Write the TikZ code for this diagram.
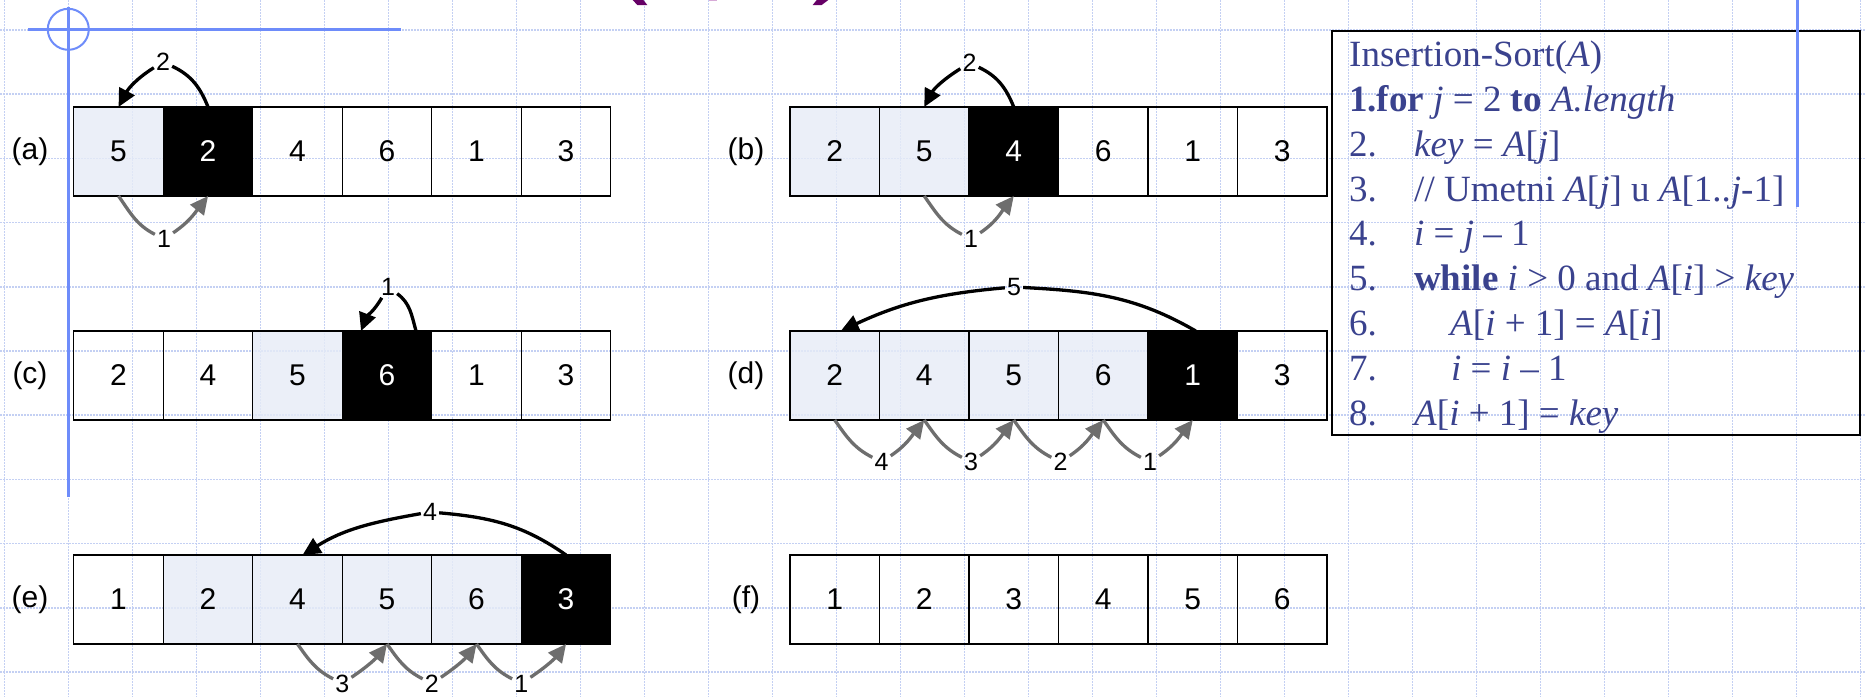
\documentclass[tikz,border=0pt]{standalone}
\usepackage{fontspec}
\setmainfont{Liberation Serif}
\newfontfamily\arialfont{Liberation Sans}
\usetikzlibrary{arrows.meta}

\definecolor{gridblue}{RGB}{196,208,243}
\definecolor{marginblue}{RGB}{110,140,250}
\definecolor{lightcell}{RGB}{230,236,247}
\definecolor{codeblue}{RGB}{58,66,142}
\definecolor{arrowgray}{RGB}{110,110,110}
\definecolor{titlepurple}{RGB}{102,0,102}
\definecolor{titlepink}{RGB}{215,170,215}

\begin{document}
\begin{tikzpicture}[x=1pt,y=1pt,
  gridline/.style={draw=gridblue, line width=1.5pt, dash pattern=on 1.6pt off 1.4pt},
  cellbox/.style={draw=black, line width=1.2pt, minimum width=89.5pt, minimum height=89pt,
    inner sep=0pt, outer sep=0pt, text opacity=1, font=\arialfont\fontsize{30}{36}\selectfont},
  rowlabel/.style={font=\arialfont\fontsize{30}{36}\selectfont, inner sep=0pt},
  numlabel/.style={font=\arialfont\fontsize{25}{25}\selectfont, inner sep=2pt},
  blackarr/.style={draw=black, line width=3.3pt, -{Triangle[length=18pt,width=17pt]}},
  grayarr/.style={draw=arrowgray, line width=3.3pt, -{Triangle[length=18pt,width=17pt]}},
  codetext/.style={text=codeblue, font=\fontsize{37}{44}\selectfont, anchor=base west, inner sep=0pt},
  marginline/.style={draw=marginblue, line width=3pt},
]
\useasboundingbox (0,0) rectangle (1866,-697);
\fill[white] (0,0) rectangle (1866,-697);

% squared paper
\foreach \i in {0,...,29}
  \draw[gridline] ({4.3+64*\i},0) -- ({4.3+64*\i},-697);
\foreach \j in {0,...,10}
  \draw[gridline] (0,{-30-64.2*\j}) -- (1866,{-30-64.2*\j});

% pieces of the heading above the frame
\fill[titlepurple] (632.7,0) -- (643.3,0) -- (647.3,-5) -- (637.3,-5) -- cycle;
\fill[titlepurple] (816.7,0) -- (828.3,0) -- (821.7,-5) -- (812.7,-5) -- cycle;
\fill[titlepink] (709.3,0) rectangle (716.7,-1.2);

% row labels
\node[rowlabel] (la) at (30,-151.5) {(a)};
\node[rowlabel] (lb) at (746,-151.5) {(b)};
\node[rowlabel] (lc) at (30,-375.5) {(c)};
\node[rowlabel] (ld) at (746,-375.5) {(d)};
\node[rowlabel] (le) at (30,-599.5) {(e)};
\node[rowlabel] (lf) at (746,-599.5) {(f)};

% arrays: value / fill / text colour / fill opacity
\foreach \v/\fc/\tc/\op [count=\k] in {5/lightcell/black/0.8,2/black/white/1,4/none/black/1,6/none/black/1,1/none/black/1,3/none/black/1}
  \node[cellbox, fill=\fc, text=\tc, fill opacity=\op] (ra\k) at ({73.8+89.5*(\k-0.5)},-151.5) {\v};
\foreach \v/\fc/\tc/\op [count=\k] in {2/lightcell/black/0.8,5/lightcell/black/0.8,4/black/white/1,6/none/black/1,1/none/black/1,3/none/black/1}
  \node[cellbox, fill=\fc, text=\tc, fill opacity=\op] (rb\k) at ({790+89.5*(\k-0.5)},-151.5) {\v};
\foreach \v/\fc/\tc/\op [count=\k] in {2/none/black/1,4/none/black/1,5/lightcell/black/0.8,6/black/white/1,1/none/black/1,3/none/black/1}
  \node[cellbox, fill=\fc, text=\tc, fill opacity=\op] (rc\k) at ({73.8+89.5*(\k-0.5)},-375.5) {\v};
\foreach \v/\fc/\tc/\op [count=\k] in {2/lightcell/black/0.8,4/lightcell/black/0.8,5/lightcell/black/0.8,6/lightcell/black/0.8,1/black/white/1,3/none/black/1}
  \node[cellbox, fill=\fc, text=\tc, fill opacity=\op] (rd\k) at ({790+89.5*(\k-0.5)},-375.5) {\v};
\foreach \v/\fc/\tc/\op [count=\k] in {1/none/black/1,2/lightcell/black/0.8,4/lightcell/black/0.8,5/lightcell/black/0.8,6/lightcell/black/0.8,3/black/white/1}
  \node[cellbox, fill=\fc, text=\tc, fill opacity=\op] (re\k) at ({73.8+89.5*(\k-0.5)},-599.5) {\v};
\foreach \v [count=\k] in {1,2,3,4,5,6}
  \node[cellbox] (rf\k) at ({790+89.5*(\k-0.5)},-599.5) {\v};

% (a)
\node[numlabel] (ta) at (163,-62) {2};
\draw[blackarr] (ra2.north) to[out=112,in=-25] (ta) to[out=212,in=62] (ra1.north);
\node[numlabel] (ba) at (164,-239) {1};
\draw[grayarr] (ra1.south) to[out=-55,in=153] (ba) to[out=34,in=-128] (ra2.south);

% (b)
\node[numlabel] (tb) at (969.5,-63) {2};
\draw[blackarr] (rb3.north) to[out=112,in=-25] (tb) to[out=212,in=62] (rb2.north);
\node[numlabel] (bb) at (971,-239) {1};
\draw[grayarr] (rb2.south) to[out=-55,in=153] (bb) to[out=34,in=-128] (rb3.south);

% (c)
\node[numlabel] (tc) at (388,-287) {1};
\draw[blackarr] ([xshift=29pt]rc4.north) to[out=106,in=-36] (tc) to[out=240,in=69] ([xshift=-26pt]rc4.north);

% (d)
\node[numlabel] (td) at (1014,-287) {5};
\draw[blackarr] ([xshift=3pt]rd5.north) to[out=150,in=-3] (td) to[out=185,in=25] ([xshift=6pt]rd1.north);
\foreach \k/\n in {1/4,2/3,3/2,4/1}{
  \pgfmathtruncatemacro\kn{\k+1}
  \node[numlabel] (bd\k) at ({790+89.5*\k+2},-462) {\n};
  \draw[grayarr] (rd\k.south) to[out=-55,in=153] (bd\k) to[out=34,in=-128] (rd\kn.south);
}

% (e)
\node[numlabel] (te) at (430,-512) {4};
\draw[blackarr] (re6.north) to[out=145,in=-5] (te) to[out=190,in=32] ([xshift=5pt]re3.north);
\foreach \k/\n in {3/3,4/2,5/1}{
  \pgfmathtruncatemacro\kn{\k+1}
  \node[numlabel] (be\k) at ({73.8+89.5*\k},-683.5) {\n};
  \draw[grayarr] (re\k.south) to[out=-55,in=153] (be\k) to[out=34,in=-128] (re\kn.south);
}

% pseudocode
\node[draw=black, line width=2.5pt, minimum width=528pt, minimum height=404pt, inner sep=0pt] (codebox) at (1596,-233) {};
\node[codetext] (ln0) at (1349,-66.7) {Insertion-Sort(\textit{A})};
\node[codetext] (ln1) at (1349,-111.5) {\textbf{1.for} \textit{j} = 2 \textbf{to} \textit{A.length}};
\node[codetext] (n2) at (1349,-156.3) {2.};
\node[codetext] (t2) at (1414,-156.3) {\textit{key} = \textit{A}[\textit{j}]};
\node[codetext] (n3) at (1349,-201.1) {3.};
\node[codetext] (t3) at (1414,-201.1) {// Umetni \textit{A}[\textit{j}] u \textit{A}[1..\textit{j}-1]};
\node[codetext] (n4) at (1349,-245.9) {4.};
\node[codetext] (t4) at (1414,-245.9) {\textit{i} = \textit{j} – 1};
\node[codetext] (n5) at (1349,-290.7) {5.};
\node[codetext] (t5) at (1414,-290.7) {\textbf{while} \textit{i} > 0 and \textit{A}[\textit{i}] > \textit{key}};
\node[codetext] (n6) at (1349,-335.5) {6.};
\node[codetext] (t6) at (1450,-335.5) {\textit{A}[\textit{i} + 1] = \textit{A}[\textit{i}]};
\node[codetext] (n7) at (1349,-380.3) {7.};
\node[codetext] (t7) at (1451,-380.3) {\textit{i} = \textit{i} – 1};
\node[codetext] (n8) at (1349,-425.1) {8.};
\node[codetext] (t8) at (1414,-425.1) {\textit{A}[\textit{i} + 1] = \textit{key}};

% notebook margin lines
\draw[marginline] (68.3,-7) -- (68.3,-497);
\draw[draw=marginblue, line width=2.5pt] (28,-29.3) -- (401,-29.3);
\draw[draw=marginblue, line width=2pt] (68.3,-29.3) circle (20.5);
\draw[marginline] (1797,0) -- (1797,-207);
\end{tikzpicture}
\end{document}
